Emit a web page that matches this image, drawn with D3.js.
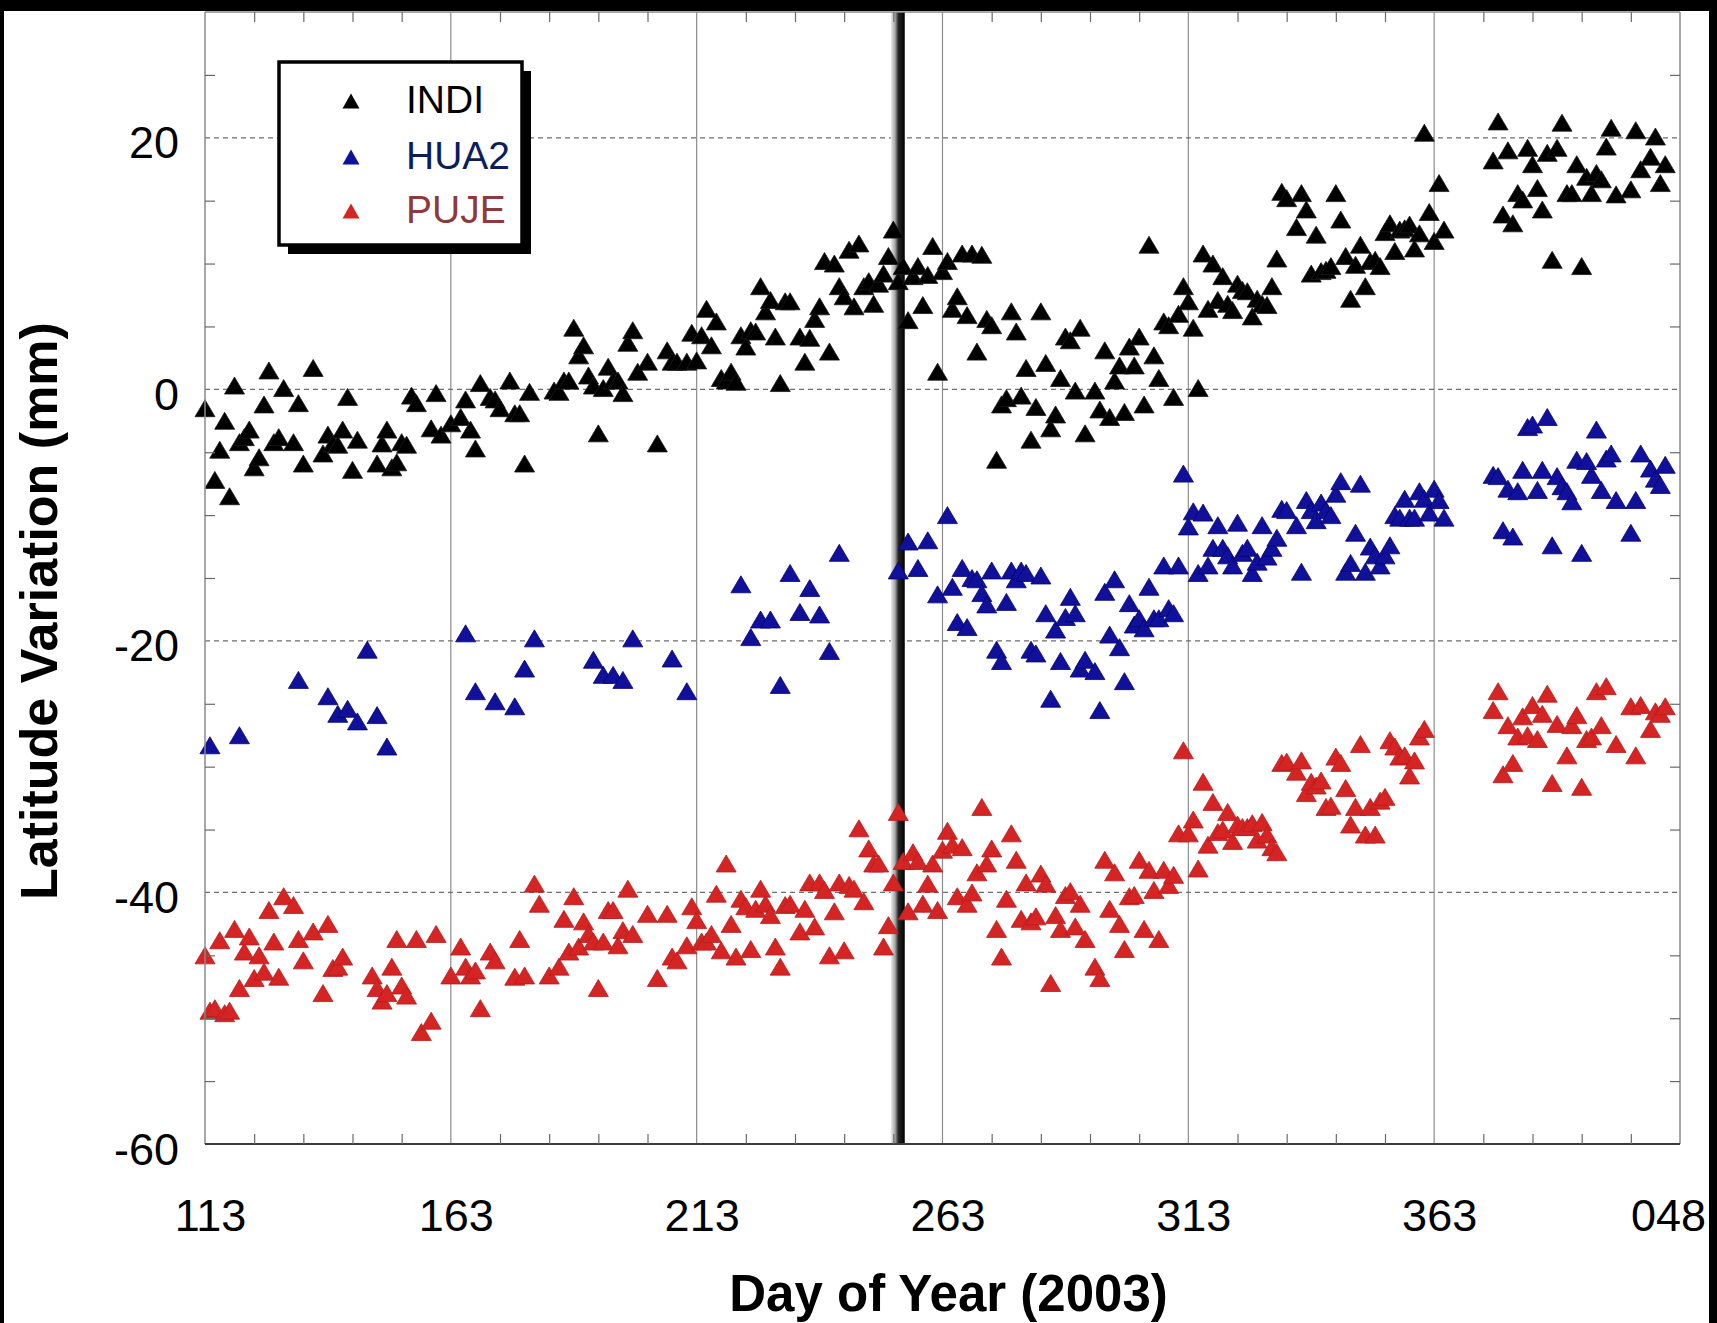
<!DOCTYPE html>
<html>
<head>
<meta charset="utf-8">
<script src="https://cdn.jsdelivr.net/npm/d3@7"></script>
<style>
  html, body { margin: 0; padding: 0; background: #fff; }
  svg { display: block; font-family: "Liberation Sans", Arial, sans-serif; }
</style>
</head>
<body>
<svg id="chart" width="1717" height="1323"></svg>
<script>
// tick values and their printed labels (days past 365 roll into 2004)
const xTicks = [113, 163, 213, 263, 313, 363, 413];
const xTickLabels = ['113', '163', '213', '263', '313', '363', '048'];
const yTicks = [-60, -40, -20, 0, 20];
const yTickLabels = ['-60', '-40', '-20', '0', '20'];

const stations = ['INDI', 'HUA2', 'PUJE'];

// day of year marked by the heavy vertical line
const eventDay = 253.9;

// [day, latitude variation in mm]
const indi = [
  [113,-1.5],[115,-7.2],[116,-4.8],[117,-2.5],[118,-8.5],[119,0.3],[120,-4.2],[121,-3.8],[122,-3.2],
  [123,-6.2],[124,-5.4],[125,-1.2],[126,1.5],[127,-4.2],[128,-3.8],[129,0.1],[131,-4.2],[132,-1.1],
  [133,-5.9],[135,1.7],[137,-5.1],[138,-3.6],[139,-4.3],[140,-4.4],[141,-3.2],[142,-0.6],[143,-6.4],
  [144,-4.0],[148,-5.9],[149,-4.3],[150,-3.2],[151,-6.2],[152,-5.8],[153,-4.2],[154,-4.4],[155,-0.5],
  [156,-1.1],[159,-3.1],[160,-0.3],[161,-3.6],[163,-2.7],[165,-2.2],[166,-0.8],[167,-3.2],[168,-4.7],
  [169,0.5],[171,-0.6],[172,-0.8],[173,-1.5],[175,0.7],[176,-1.9],[177,-1.9],[178,-5.9],[179,-0.2],
  [184,-0.1],[185,-0.2],[186,0.7],[187,0.7],[188,4.9],[189,2.7],[190,3.5],[191,1.1],[192,0.3],
  [193,-3.5],[194,0.1],[195,1.8],[196,0.7],[197,0.7],[198,-0.3],[199,3.7],[200,4.7],[201,1.4],
  [203,2.2],[205,-4.3],[207,3.1],[208,2.2],[209,2.2],[211,2.2],[212,4.5],[213,2.3],[214,4.3],
  [215,6.4],[216,3.5],[217,5.4],[218,0.9],[219,0.7],[220,1.4],[221,0.6],[222,4.3],[223,3.4],
  [224,4.7],[225,4.6],[226,8.2],[227,6.2],[228,7.1],[229,4.2],[230,0.5],[231,7.0],[232,7.0],
  [234,4.2],[235,2.2],[236,4.1],[237,5.6],[238,6.6],[239,10.2],[240,3.0],[241,10.0],[242,8.2],
  [243,7.4],[244,11.1],[245,6.6],[246,11.6],[247,8.2],[248,8.6],[249,6.8],[250,8.4],[251,9.2],
  [252,10.6],[253,12.7],[254,8.6],[255,9.8],[256,5.5],[257,9.0],[258,9.8],[259,6.7],[260,9.1],
  [261,11.4],[262,1.4],[263,9.4],[264,10.2],[265,6.4],[266,7.4],[267,10.8],[268,5.9],[269,10.8],
  [270,3.0],[271,10.7],[272,5.6],[273,5.1],[274,-5.6],[275,-1.2],[276,-0.7],[277,6.2],[278,4.6],
  [279,-0.5],[280,1.7],[281,-4.0],[282,-1.4],[283,6.2],[284,2.1],[285,-3.1],[286,-2.0],[287,0.9],
  [288,4.2],[289,3.9],[290,-0.1],[291,4.9],[292,-3.5],[294,-0.1],[295,-1.6],[296,3.1],[297,-2.2],
  [298,0.7],[299,1.9],[300,-1.8],[301,3.4],[302,1.9],[303,4.2],[304,-1.2],[305,11.5],[306,2.7],
  [307,0.9],[308,5.4],[309,5.1],[310,-0.6],[311,6.0],[312,8.2],[313,7.0],[314,4.9],[315,0.1],
  [316,10.8],[317,6.4],[318,10.0],[319,7.1],[320,9.0],[321,6.8],[322,6.3],[323,8.4],[324,7.9],
  [325,7.8],[326,5.8],[327,7.2],[328,6.8],[329,6.7],[330,8.2],[331,10.4],[332,15.7],[333,15.2],
  [335,12.9],[336,15.6],[337,14.3],[338,9.2],[339,12.3],[340,9.4],[341,9.5],[342,9.8],[343,15.6],
  [344,13.5],[345,10.6],[346,7.2],[347,9.9],[348,11.5],[349,8.2],[350,10.2],[351,10.3],[352,9.8],
  [353,12.5],[354,13.2],[355,11.0],[356,12.7],[357,12.8],[358,13.1],[359,11.2],[360,12.4],[361,20.4],
  [362,14.1],[363,11.8],[364,16.4],[365,12.7],[375,18.2],[376,21.3],[377,13.9],[378,19.0],[379,13.2],
  [380,15.6],[381,15.1],[382,19.2],[383,17.9],[384,16.0],[385,14.3],[386,18.8],[387,10.3],[388,19.2],
  [389,21.2],[390,15.6],[391,15.6],[392,17.9],[393,9.8],[394,16.9],[395,15.6],[396,17.2],[397,16.7],
  [398,19.3],[399,20.8],[400,15.5],[403,15.9],[404,20.6],[405,17.5],[407,18.5],[408,20.1],[409,16.4],
  [410,17.9]
];

const hua2 = [
  [114,-28.3],[120,-27.5],[132,-23.1],[138,-24.4],[140,-25.8],[142,-25.4],[144,-26.4],[146,-20.7],
  [148,-25.9],[150,-28.4],[166,-19.4],[168,-24.0],[172,-24.8],[176,-25.2],[178,-22.2],[180,-19.8],
  [192,-21.5],[194,-22.7],[196,-22.7],[198,-23.1],[200,-19.8],[208,-21.4],[211,-24.0],[222,-15.5],
  [224,-19.7],[226,-18.3],[228,-18.3],[230,-23.5],[232,-14.6],[234,-17.7],[236,-15.8],[238,-17.9],
  [240,-20.8],[242,-13.0],[254,-14.4],[256,-12.1],[258,-14.2],[260,-12.0],[262,-16.3],[264,-10.0],
  [265,-15.7],[266,-18.5],[267,-14.2],[268,-18.9],[269,-15.0],[270,-15.1],[271,-16.2],[272,-17.1],
  [273,-14.4],[274,-20.7],[275,-21.6],[276,-16.9],[277,-14.4],[278,-15.1],[279,-14.4],[280,-14.6],
  [281,-20.7],[282,-21.0],[283,-14.8],[284,-17.8],[285,-24.6],[286,-19.1],[287,-21.6],[288,-18.1],
  [289,-16.5],[290,-17.8],[291,-22.2],[292,-21.5],[294,-22.4],[295,-25.5],[296,-16.1],[297,-19.5],
  [298,-15.1],[299,-20.5],[300,-23.2],[301,-17.0],[302,-18.7],[303,-18.2],[304,-19.0],[305,-15.7],
  [306,-18.2],[307,-18.2],[308,-14.0],[309,-17.4],[310,-17.8],[311,-14.0],[312,-6.7],[313,-10.9],
  [314,-9.7],[315,-14.6],[316,-9.8],[317,-14.0],[318,-12.6],[319,-10.8],[320,-12.6],[321,-13.2],
  [322,-14.0],[323,-10.6],[324,-13.0],[325,-12.6],[326,-14.6],[327,-13.7],[328,-10.8],[329,-13.3],
  [330,-12.6],[331,-11.8],[332,-9.5],[333,-9.6],[335,-10.8],[336,-14.5],[337,-8.8],[338,-9.6],
  [339,-10.4],[340,-9.0],[341,-9.6],[342,-10.0],[343,-8.3],[344,-7.3],[345,-14.5],[346,-13.8],
  [347,-11.4],[348,-7.5],[349,-14.5],[350,-12.5],[351,-13.2],[352,-14.0],[353,-13.2],[354,-12.4],
  [355,-10.0],[356,-10.2],[357,-8.7],[358,-10.2],[359,-10.2],[360,-8.1],[361,-8.7],[362,-9.8],
  [363,-7.9],[364,-8.8],[365,-10.2],[375,-6.8],[376,-6.9],[377,-11.2],[378,-7.9],[379,-11.7],
  [380,-8.1],[381,-6.4],[382,-3.0],[383,-2.8],[384,-8.0],[385,-6.4],[386,-2.2],[387,-12.4],
  [388,-6.9],[389,-7.7],[390,-8.1],[391,-8.9],[392,-5.6],[393,-13.0],[394,-5.7],[395,-6.8],
  [396,-3.2],[397,-8.0],[398,-5.5],[399,-5.1],[400,-8.8],[403,-11.4],[404,-8.8],[405,-5.1],
  [407,-6.3],[408,-7.1],[409,-7.6],[410,-6.0]
];

const puje = [
  [113,-45.0],[114,-49.4],[115,-49.2],[116,-43.8],[117,-49.6],[118,-49.4],[119,-42.9],[120,-47.6],
  [121,-44.7],[122,-43.5],[123,-46.8],[124,-45.0],[125,-46.3],[126,-41.4],[127,-43.9],[128,-46.7],
  [129,-40.3],[131,-41.0],[132,-43.7],[133,-45.4],[135,-43.1],[137,-48.0],[138,-42.5],[139,-46.0],
  [140,-45.9],[141,-45.1],[147,-46.6],[148,-47.6],[149,-48.6],[150,-48.0],[151,-45.9],[152,-43.7],
  [153,-47.4],[154,-48.2],[156,-43.7],[157,-51.1],[159,-50.2],[160,-43.3],[163,-46.6],[165,-44.3],
  [166,-45.9],[167,-46.6],[168,-46.2],[169,-49.2],[171,-44.7],[172,-45.4],[176,-46.7],[177,-43.7],
  [178,-46.6],[180,-39.3],[181,-40.9],[183,-46.6],[185,-45.9],[186,-42.1],[187,-44.7],[188,-40.3],
  [189,-44.3],[190,-42.3],[191,-43.3],[192,-43.9],[193,-47.6],[194,-43.9],[195,-41.4],[196,-41.4],
  [197,-44.2],[198,-43.0],[199,-39.7],[200,-43.3],[203,-41.7],[205,-46.8],[207,-41.7],[208,-45.1],
  [209,-45.4],[211,-44.2],[212,-41.1],[213,-42.2],[214,-43.9],[215,-43.9],[216,-43.3],[217,-40.1],
  [218,-44.6],[219,-37.7],[220,-42.5],[221,-45.1],[222,-40.5],[223,-41.1],[224,-44.5],[225,-41.3],
  [226,-39.7],[227,-40.9],[228,-41.8],[229,-44.3],[230,-45.9],[231,-41.0],[232,-40.9],[234,-43.1],
  [235,-41.3],[236,-39.2],[237,-42.7],[238,-39.2],[239,-39.8],[240,-45.0],[241,-41.5],[242,-39.2],
  [243,-44.6],[244,-39.4],[245,-39.7],[246,-34.9],[247,-40.7],[248,-36.5],[249,-37.7],[250,-37.7],
  [251,-44.3],[252,-42.6],[253,-39.2],[254,-33.6],[255,-37.5],[256,-41.5],[257,-36.8],[258,-37.5],
  [259,-40.9],[260,-39.3],[261,-37.7],[262,-41.4],[263,-36.6],[264,-35.1],[265,-36.2],[266,-40.3],
  [267,-36.4],[268,-40.9],[269,-40.0],[270,-38.4],[271,-33.2],[272,-37.7],[273,-36.5],[274,-42.9],
  [275,-45.1],[276,-40.5],[277,-35.3],[278,-37.4],[279,-42.1],[280,-39.2],[281,-42.3],[282,-41.9],
  [283,-38.5],[284,-39.3],[285,-47.2],[286,-41.8],[287,-42.9],[288,-40.2],[289,-39.9],[290,-42.7],
  [291,-40.9],[292,-43.7],[294,-45.9],[295,-46.8],[296,-37.4],[297,-41.3],[298,-38.4],[299,-42.5],
  [300,-44.5],[301,-40.3],[302,-40.2],[303,-37.4],[304,-42.9],[305,-38.2],[306,-39.8],[307,-43.7],
  [308,-38.2],[309,-39.4],[310,-38.6],[311,-35.3],[312,-28.7],[313,-35.3],[314,-34.2],[315,-38.1],
  [316,-31.2],[317,-36.2],[318,-32.8],[319,-35.2],[320,-35.0],[321,-33.6],[322,-35.9],[323,-34.6],
  [324,-34.8],[325,-34.8],[326,-34.5],[327,-35.8],[328,-34.4],[329,-35.4],[330,-36.4],[331,-36.8],
  [332,-29.7],[333,-29.6],[335,-30.4],[336,-29.5],[337,-32.1],[338,-31.2],[339,-31.5],[340,-31.1],
  [341,-33.2],[342,-33.1],[343,-29.2],[344,-29.7],[345,-31.7],[346,-34.6],[347,-33.2],[348,-28.2],
  [349,-35.4],[350,-33.2],[351,-35.4],[352,-32.7],[353,-32.4],[354,-27.9],[355,-28.4],[356,-29.2],
  [357,-29.1],[358,-30.7],[359,-29.5],[360,-27.6],[361,-27.0],[375,-25.5],[376,-24.0],[377,-30.6],
  [378,-26.7],[379,-29.7],[380,-27.6],[381,-26.0],[382,-27.5],[383,-25.1],[384,-27.8],[385,-25.8],
  [386,-24.2],[387,-31.3],[388,-26.6],[390,-29.1],[391,-26.7],[392,-25.9],[393,-31.6],[394,-27.8],
  [395,-27.6],[396,-24.0],[397,-26.7],[398,-23.6],[400,-28.2],[403,-25.2],[404,-29.1],[405,-25.1],
  [407,-27.0],[408,-25.6],[409,-25.8],[410,-25.2]
];

const seriesData = [indi, hua2, puje];
const markFill = ['#000000', '#10109a', '#d42424'];
const markEdge = ['#1a1a1a', '#050570', '#b81c1c'];
const legendText = ['#000000', '#0b1d5c', '#8e3a3a'];

const svg = d3.select('#chart');

const x = d3.scaleLinear().domain([113, 413]).range([205, 1680]);
const y = d3.scaleLinear().domain([-60, 30]).range([1144, 12]);

const [x0, x1] = x.range();
const [y0, y1] = y.range();

// an upward triangle centred on its bounding box
function triangle(w, h) {
  return `M0,${-h / 2}L${w / 2},${h / 2}L${-w / 2},${h / 2}Z`;
}

svg.append('rect')
  .attr('width', 1717).attr('height', 1323)
  .attr('fill', '#fff');

// vertical grid at the labelled days
svg.append('g')
  .selectAll('line')
  .data(xTicks.slice(1, -1))
  .join('line')
  .attr('x1', d => x(d)).attr('x2', d => x(d))
  .attr('y1', y1).attr('y2', y0)
  .attr('stroke', '#8c8c8c')
  .attr('stroke-width', 1.2);

// dashed horizontal grid
svg.append('g')
  .selectAll('line')
  .data(yTicks.slice(1))
  .join('line')
  .attr('x1', x0).attr('x2', x1)
  .attr('y1', d => y(d)).attr('y2', d => y(d))
  .attr('stroke', '#6e6e6e')
  .attr('stroke-width', 1.2)
  .attr('stroke-dasharray', '5,4');

// shaded event line
const defs = svg.append('defs');
const grad = defs.append('linearGradient')
  .attr('id', 'eventShade')
  .attr('x1', '0').attr('x2', '1').attr('y1', '0').attr('y2', '0');
grad.append('stop').attr('offset', '0%').attr('stop-color', '#ececec');
grad.append('stop').attr('offset', '30%').attr('stop-color', '#a8a8a8');
grad.append('stop').attr('offset', '55%').attr('stop-color', '#262626');
grad.append('stop').attr('offset', '100%').attr('stop-color', '#000');

svg.append('rect')
  .attr('x', x(eventDay) - 7)
  .attr('y', y1)
  .attr('width', 14)
  .attr('height', y0 - y1)
  .attr('fill', 'url(#eventShade)');

// points
seriesData.forEach((data, i) => {
  svg.append('g')
    .selectAll('path')
    .data(data)
    .join('path')
    .attr('transform', d => `translate(${x(d[0])},${y(d[1])})`)
    .attr('d', triangle(20, 17))
    .attr('fill', markFill[i])
    .attr('stroke', markEdge[i])
    .attr('stroke-width', 0.8);
});

// frame
svg.append('line')
  .attr('x1', x0).attr('x2', x0).attr('y1', y1).attr('y2', y0)
  .attr('stroke', '#8a8a8a').attr('stroke-width', 1.5);
svg.append('line')
  .attr('x1', x1).attr('x2', x1).attr('y1', y1).attr('y2', y0)
  .attr('stroke', '#8a8a8a').attr('stroke-width', 1.5);
svg.append('line')
  .attr('x1', x0).attr('x2', x1).attr('y1', y1).attr('y2', y1)
  .attr('stroke', '#8a8a8a').attr('stroke-width', 1.5);
svg.append('line')
  .attr('x1', x0).attr('x2', x1).attr('y1', y0).attr('y2', y0)
  .attr('stroke', '#3c3c3c').attr('stroke-width', 2);

// minor ticks, pointing inward on all four sides
const xMinor = d3.range(113, 414, 10).filter(d => !xTicks.includes(d));
const yMinor = d3.range(-60, 31, 5).filter(d => !yTicks.includes(d) && d !== 30);

function minorAxis(axis, tf) {
  const g = svg.append('g')
    .attr('transform', tf)
    .call(axis);
  g.select('.domain').remove();
  g.selectAll('line').attr('stroke', '#6a6a6a').attr('stroke-width', 1.2);
  g.selectAll('text').remove();
}

minorAxis(d3.axisBottom(x).tickValues(xMinor).tickSize(-10), `translate(0,${y0})`);
minorAxis(d3.axisTop(x).tickValues(xMinor).tickSize(-10), `translate(0,${y1})`);
minorAxis(d3.axisLeft(y).tickValues(yMinor).tickSize(-10), `translate(${x0},0)`);
minorAxis(d3.axisRight(y).tickValues(yMinor).tickSize(-10), `translate(${x1},0)`);

// tick labels
const xAxis = svg.append('g')
  .attr('transform', `translate(0,${y0})`)
  .call(d3.axisBottom(x)
    .tickValues(xTicks)
    .tickSize(0)
    .tickPadding(0)
    .tickFormat((d, i) => xTickLabels[i]));
xAxis.select('.domain').remove();
xAxis.selectAll('text')
  .attr('y', 87)
  .attr('dy', null)
  .attr('dx', (d, i) => i === xTicks.length - 1 ? -12 : 5)
  .attr('fill', '#000')
  .style('font-size', '45px')
  .style('font-family', '"Liberation Sans", Arial, sans-serif');

const yAxis = svg.append('g')
  .attr('transform', `translate(${x0},0)`)
  .call(d3.axisLeft(y)
    .tickValues(yTicks)
    .tickSize(0)
    .tickPadding(0)
    .tickFormat((d, i) => yTickLabels[i]));
yAxis.select('.domain').remove();
yAxis.selectAll('text')
  .attr('x', -26)
  .attr('dy', 20)
  .attr('fill', '#000')
  .style('font-size', '45px')
  .style('font-family', '"Liberation Sans", Arial, sans-serif');

// axis titles
svg.append('text')
  .attr('x', (x0 + x1) / 2 + 6)
  .attr('y', 1311)
  .attr('text-anchor', 'middle')
  .attr('font-weight', 'bold')
  .attr('font-size', 51)
  .text('Day of Year (2003)');

svg.append('text')
  .attr('transform', 'translate(57,611) rotate(-90)')
  .attr('text-anchor', 'middle')
  .attr('font-weight', 'bold')
  .attr('font-size', 52)
  .text('Latitude Variation (mm)');

// legend with drop shadow
const legend = svg.append('g');
legend.append('rect')
  .attr('x', 288).attr('y', 71)
  .attr('width', 243).attr('height', 183)
  .attr('fill', '#000');
legend.append('rect')
  .attr('x', 279).attr('y', 62)
  .attr('width', 243).attr('height', 183)
  .attr('fill', '#fff')
  .attr('stroke', '#000')
  .attr('stroke-width', 3.5);

const legendRows = [101, 157, 211];
stations.forEach((name, i) => {
  legend.append('path')
    .attr('transform', `translate(351,${legendRows[i]})`)
    .attr('d', triangle(17, 15))
    .attr('fill', i === 0 ? '#000' : markFill[i]);
  legend.append('text')
    .attr('x', 406)
    .attr('y', legendRows[i] + 12)
    .attr('font-size', 39)
    .attr('fill', legendText[i])
    .text(name);
});

// black border bands of the scanned figure
svg.append('rect').attr('x', 0).attr('y', 0).attr('width', 1717).attr('height', 11).attr('fill', '#000');
svg.append('rect').attr('x', 0).attr('y', 0).attr('width', 4).attr('height', 1323).attr('fill', '#000');
svg.append('rect').attr('x', 1709).attr('y', 0).attr('width', 8).attr('height', 1323).attr('fill', '#000');
</script>
</body>
</html>
